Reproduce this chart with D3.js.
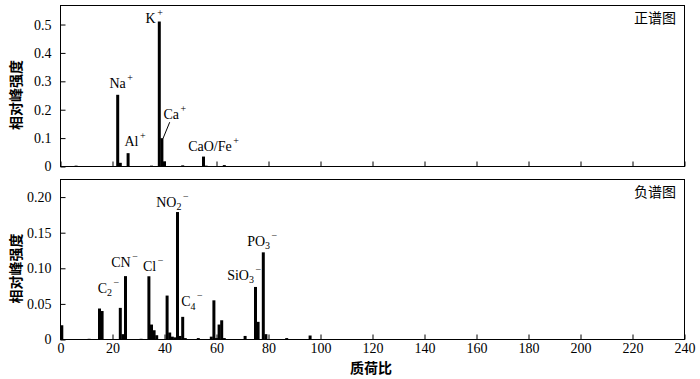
<!DOCTYPE html>
<html><head><meta charset="utf-8">
<script src="https://cdn.jsdelivr.net/npm/d3@7"></script>
<style>
body{margin:0;background:#fff;}
svg{display:block;}
</style></head>
<body>
<svg id="chart" width="700" height="379"></svg>
<script>
// ---- data ----
const xTickValues = [0,20,40,60,80,100,120,140,160,180,200,220,240];
const posTickValues = [0,0.1,0.2,0.3,0.4,0.5];
const posTickLabels = ["0","0.1","0.2","0.3","0.4","0.5"];
const negTickValues = [0,0.05,0.10,0.15,0.20];
const negTickLabels = ["0","0.05","0.10","0.15","0.20"];

// positive spectrum: mass-charge position and relative intensity
const posMZ  = [6, 11, 22, 23, 26, 35, 38, 39, 40, 47, 55, 56, 63];
const posVal = [0.003, 0.001, 0.2525, 0.013, 0.047, 0.003, 0.5106, 0.0997, 0.018, 0.004, 0.035, 0.003, 0.005];

// negative spectrum
const negMZ  = [0.5, 11, 15, 16, 23, 24, 25, 31, 34, 35, 36, 37, 41, 42, 43, 44, 45, 46, 47, 48, 53, 58, 59, 60, 61, 62, 63, 71, 75, 76, 78, 79, 87, 96];
const negVal = [0.020, 0.001, 0.0435, 0.040, 0.0444, 0.0075, 0.089, 0.001, 0.0888, 0.021, 0.013, 0.006, 0.0617, 0.0098, 0.004, 0.003, 0.179, 0.005, 0.0318, 0.002, 0.002, 0.004, 0.055, 0.002, 0.021, 0.027, 0.002, 0.005, 0.0738, 0.0248, 0.1224, 0.0075, 0.002, 0.0056];

// peak labels: [main, sub, sup], anchored at (m/z, intensity)
const posLabels = [
  {main:"Na", sub:"", sup:"+", m:18.8, v:0.278},
  {main:"Al", sub:"", sup:"+", m:24.6, v:0.072},
  {main:"K",  sub:"", sup:"+", m:32.7, v:0.505},
  {main:"Ca", sub:"", sup:"+", m:39.6, v:0.1665},
  {main:"CaO/Fe", sub:"", sup:"+", m:49.1, v:0.054}
];
const caLeader = {m1:42.0, v1:0.156, m2:39.4, v2:0.098};
const negLabels = [
  {main:"C",   sub:"2", sup:"\u2212", m:14.3, v:0.0656},
  {main:"CN",  sub:"",  sup:"\u2212", m:19.5, v:0.102},
  {main:"Cl",  sub:"",  sup:"\u2212", m:31.7, v:0.0955},
  {main:"NO",  sub:"2", sup:"\u2212", m:36.8, v:0.1864},
  {main:"C",   sub:"4", sup:"\u2212", m:46.4, v:0.0466},
  {main:"SiO", sub:"3", sup:"\u2212", m:64.1, v:0.0838},
  {main:"PO",  sub:"3", sup:"\u2212", m:71.8, v:0.1316}
];
const posTitle = "正谱图";
const negTitle = "负谱图";
const yTitle = "相对峰强度";
const xTitle = "质荷比";

// ---- drawing ----
const svg = d3.select("#chart");
const serif = "'Liberation Serif','Times New Roman',serif";
const cjk = "'Noto Sans CJK SC','Noto Sans CJK JP',sans-serif";

const x = d3.scaleLinear().domain([0,240]).range([60.5,684.5]);
const panels = [
  {mz:posMZ, val:posVal, y:d3.scaleLinear().domain([0,0.567]).range([166.5,5.5]),
   tv:posTickValues, tl:posTickLabels, labels:posLabels, title:posTitle, xlab:false},
  {mz:negMZ, val:negVal, y:d3.scaleLinear().domain([0,0.2247]).range([339.5,179.5]),
   tv:negTickValues, tl:negTickLabels, labels:negLabels, title:negTitle, xlab:true}
];

const bw = x(1.15) - x(0);

panels.forEach((p, pi) => {
  const g = svg.append("g");
  const [y0, y1] = p.y.range();
  const clipId = "clip" + pi;
  svg.append("clipPath").attr("id", clipId).append("rect")
    .attr("x", x(0)).attr("y", y1).attr("width", x(240)-x(0)).attr("height", y0-y1);

  // bars
  g.append("g").attr("clip-path", `url(#${clipId})`)
    .selectAll("rect").data(p.mz.map((m,i)=>({m, v:p.val[i]}))).enter().append("rect")
    .attr("x", d => x(d.m) - bw/2)
    .attr("width", bw)
    .attr("y", d => p.y(d.v))
    .attr("height", d => p.y(0) - p.y(d.v))
    .attr("fill", "#000");

  // x axis (inward ticks)
  const xa = d3.axisBottom(x).tickValues(xTickValues).tickSize(-5).tickPadding(4);
  const gx = g.append("g").attr("transform", `translate(0,${y0})`).call(xa);
  gx.select(".domain").remove();
  gx.selectAll("line").attr("stroke", "#000");
  if (!p.xlab) gx.selectAll("text").remove();
  else gx.selectAll("text").attr("font-family", serif).attr("font-size", 14).attr("fill", "#000");

  // y axis
  const ya = d3.axisLeft(p.y).tickValues(p.tv).tickSize(-5).tickPadding(9)
    .tickFormat((d,i) => p.tl[i]);
  const gy = g.append("g").attr("transform", `translate(${x(0)},0)`).call(ya);
  gy.select(".domain").remove();
  gy.selectAll("line").attr("stroke", "#000");
  gy.selectAll("text").attr("font-family", serif).attr("font-size", 14).attr("fill", "#000");

  // frame
  g.append("rect").attr("x", x(0)).attr("y", y1).attr("width", x(240)-x(0)).attr("height", y0-y1)
    .attr("fill", "none").attr("stroke", "#000").attr("stroke-width", 1);

  // title
  g.append("text").attr("x", 676).attr("y", y1 + 17).attr("text-anchor", "end")
    .attr("font-family", cjk).attr("font-size", 14).attr("fill", "#000").text(p.title);

  // y label
  g.append("text")
    .attr("transform", `translate(21,${(y0+y1)/2 + 9}) rotate(-90)`)
    .attr("text-anchor", "middle")
    .attr("font-family", cjk).attr("font-size", 14).attr("font-weight", "bold").attr("fill", "#000")
    .text(yTitle);

  // peak labels
  p.labels.forEach(l => {
    const t = g.append("text").attr("x", x(l.m)).attr("y", p.y(l.v))
      .attr("font-family", serif).attr("font-size", 14).attr("fill", "#000");
    t.append("tspan").text(l.main);
    let dyBack = 0;
    if (l.sub) {
      t.append("tspan").attr("dy", 3.5).attr("font-size", 10).text(l.sub);
      dyBack = -3.5;
    }
    t.append("tspan").attr("dx", 1.5).attr("dy", dyBack - 7).attr("font-size", 10).text(l.sup);
  });
});

// Ca leader line
const yT = panels[0].y;
svg.append("line")
  .attr("x1", x(caLeader.m1)).attr("y1", yT(caLeader.v1))
  .attr("x2", x(caLeader.m2)).attr("y2", yT(caLeader.v2))
  .attr("stroke", "#000").attr("stroke-width", 1);

// x label
svg.append("text").attr("x", 371).attr("y", 373).attr("text-anchor", "middle")
  .attr("font-family", cjk).attr("font-size", 14).attr("font-weight", "bold").attr("fill", "#000")
  .text(xTitle);
</script>
</body></html>
